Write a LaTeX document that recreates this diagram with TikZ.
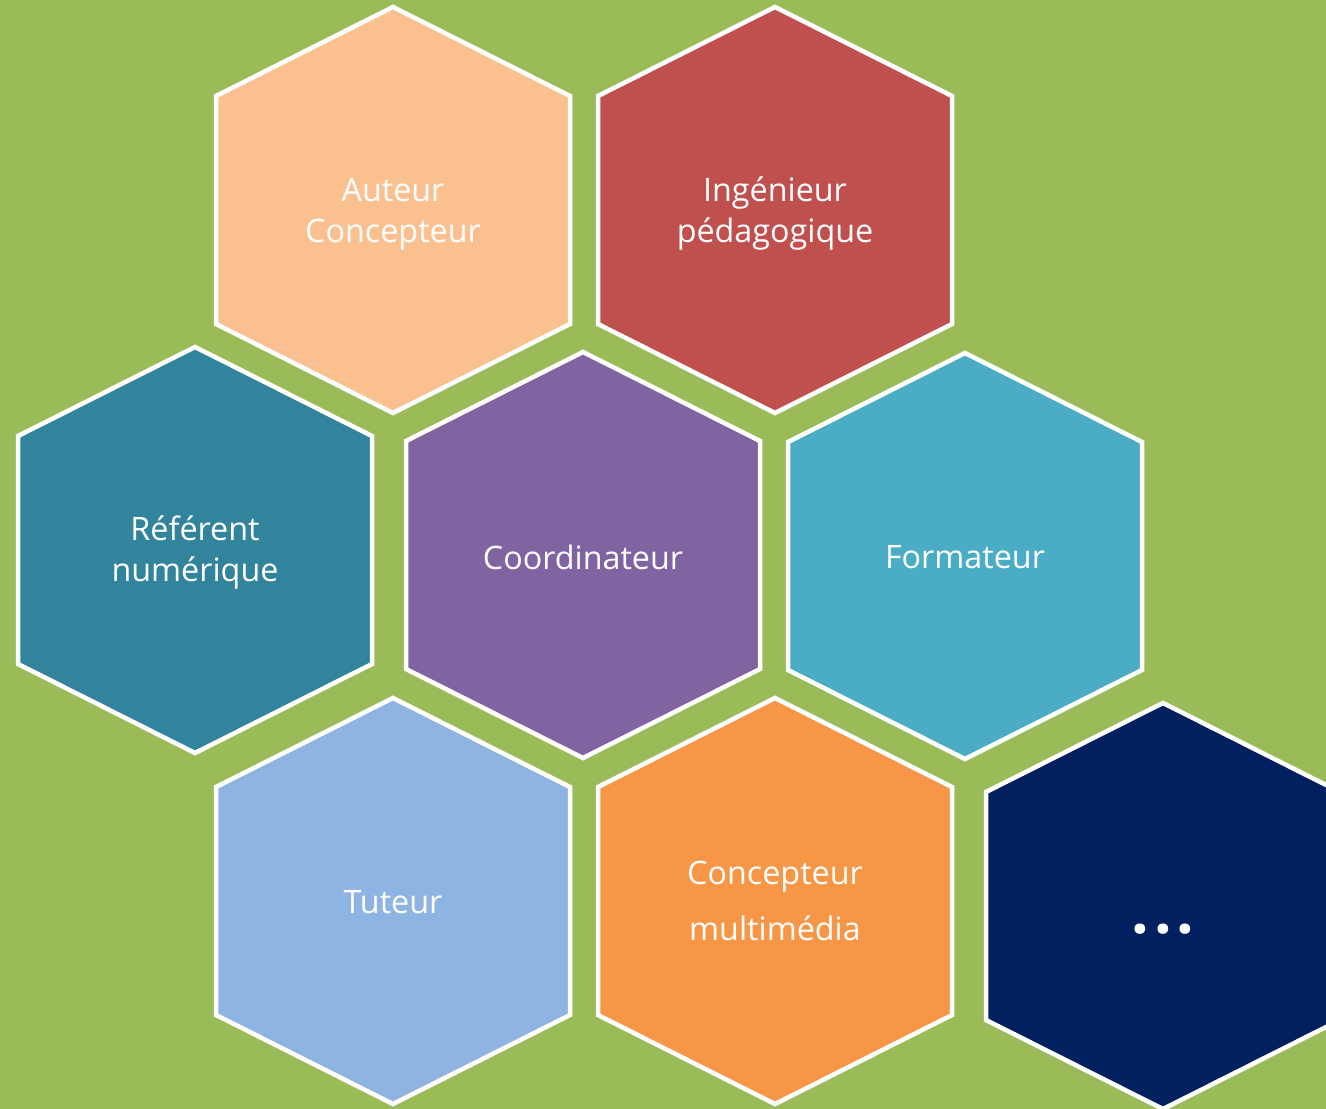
\documentclass[tikz,border=0pt]{standalone}
\usepackage{fontspec}
\setmainfont{Open Sans}
\usetikzlibrary{positioning}

\definecolor{fondo}{HTML}{9BBB59}
\definecolor{melocoton}{HTML}{FAC090}
\definecolor{rojizo}{HTML}{C0504D}
\definecolor{petroleo}{HTML}{31849B}
\definecolor{violeta}{HTML}{8064A2}
\definecolor{celeste}{HTML}{4BACC6}
\definecolor{azulclaro}{HTML}{8EB4E3}
\definecolor{naranja}{HTML}{F79646}
\definecolor{marino}{HTML}{002060}

\begin{document}
\begin{tikzpicture}[x=1pt,y=-1pt,
    hexa/.style={draw=white,line width=4.5pt,line join=miter},
    rotulo/.style={text=white,align=center,font=\fontsize{32.3}{41}\selectfont}]
    % Fondo
    \useasboundingbox (0,0) rectangle (1326,1109);
    \clip (0,0) rectangle (1326,1109);
    \fill[fondo] (0,0) rectangle (1326,1109);

    % Hexagonos (centro x, centro y, color)
    \foreach \cx/\cy/\col in {393/210/melocoton, 775/210/rojizo,
        195/550/petroleo, 583/555/violeta, 965/556/celeste,
        393/901/azulclaro, 775/901/naranja, 1163/906/marino} {
        \draw[hexa,fill=\col] (\cx,\cy-203) -- (\cx+177,\cy-114) -- (\cx+177,\cy+114)
            -- (\cx,\cy+203) -- (\cx-177,\cy+114) -- (\cx-177,\cy-114) -- cycle;
    }

    % Etiquetas
    \node[rotulo] (auteur) at (393,214) {Auteur\\Concepteur};
    \node[rotulo] (ingenieur) at (775,214) {Ingénieur\\pédagogique};
    \node[rotulo] (referent) at (195,552) {Référent\\numérique};
    \node[rotulo] (coordinateur) at (583,557) {Coordinateur};
    \node[rotulo] (formateur) at (965,557) {Formateur};
    \node[rotulo] (tuteur) at (393,902) {Tuteur};
    \node[rotulo] (multimedia) at (775,901) {Concepteur\\[15pt]multimédia};
    \node[rotulo,font=\fontsize{62}{41}\selectfont\bfseries] (autres) at (1163,929)
        {.\kern5pt.\kern5pt.};
\end{tikzpicture}
\end{document}
